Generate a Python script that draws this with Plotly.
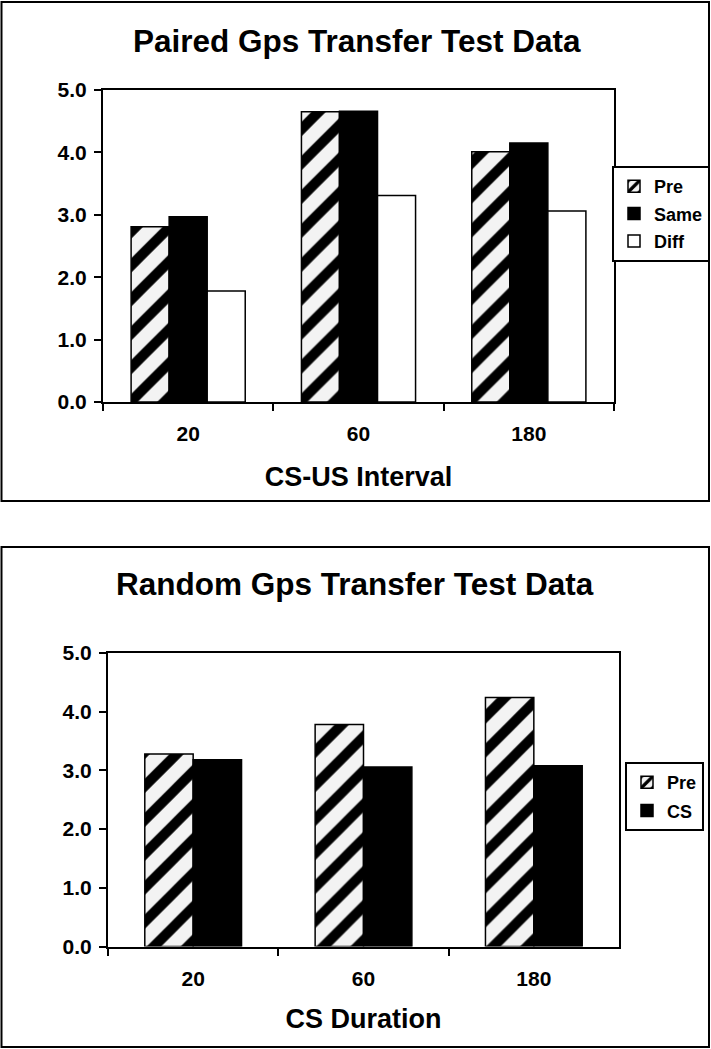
import plotly.graph_objects as go

W, H = 711, 1049

categories = ["20", "60", "180"]

paired_pre = [2.81, 4.65, 4.01]
paired_same = [2.97, 4.66, 4.15]
paired_diff = [1.78, 3.31, 3.06]

random_pre = [3.28, 3.78, 4.24]
random_cs = [3.18, 3.06, 3.08]

top_title = "Paired Gps Transfer Test Data"
bottom_title = "Random Gps Transfer Test Data"
top_xtitle = "CS-US Interval"
bottom_xtitle = "CS Duration"
y_ticks = [0, 1, 2, 3, 4, 5]

FONT = "Liberation Sans, Arial, Helvetica, sans-serif"

def px_x(p):
    return p / W

def px_y(p):
    return 1 - p / H

stripe = dict(shape="/", fgcolor="black", fgopacity=1, bgcolor="#f3f3f3", size=24, solidity=0.42)
outline = dict(color="black", width=1.5)

fig = go.Figure()

fig.add_trace(go.Bar(x=categories, y=paired_pre, name="Pre", xaxis="x", yaxis="y",
                     marker=dict(color="#f3f3f3", pattern=stripe, line=outline),
                     legend="legend", legendgroup="a1"))
fig.add_trace(go.Bar(x=categories, y=paired_same, name="Same", xaxis="x", yaxis="y",
                     marker=dict(color="black", line=outline), legend="legend", legendgroup="a2"))
fig.add_trace(go.Bar(x=categories, y=paired_diff, name="Diff", xaxis="x", yaxis="y",
                     marker=dict(color="white", line=outline), legend="legend", legendgroup="a3"))

bw = 0.284
fig.add_trace(go.Bar(x=categories, y=random_pre, name="Pre", xaxis="x2", yaxis="y2",
                     width=bw, offset=-bw,
                     marker=dict(color="#f3f3f3", pattern=stripe, line=outline),
                     legend="legend2", legendgroup="b1"))
fig.add_trace(go.Bar(x=categories, y=random_cs, name="CS", xaxis="x2", yaxis="y2",
                     width=bw, offset=0,
                     marker=dict(color="black", line=outline), legend="legend2", legendgroup="b2"))

tickfont = dict(family=FONT, size=21, color="black", weight="bold")
titlefont = dict(family=FONT, size=27, color="black", weight="bold")

def xaxis(domain, anchor, title, standoff):
    return dict(domain=domain, anchor=anchor, type="category", tickson="boundaries",
                ticks="outside", ticklen=7, tickwidth=2, tickcolor="black",
                showline=True, linewidth=2, linecolor="black", mirror=True,
                showgrid=False, tickfont=tickfont, ticklabelstandoff=12, automargin=False,
                title=dict(text=title, font=titlefont, standoff=standoff), fixedrange=True)

def yaxis(domain, anchor):
    return dict(domain=domain, anchor=anchor, range=[0, 5], tickvals=y_ticks, tickformat=".1f",
                ticks="outside", ticklen=7, tickwidth=2, tickcolor="black",
                showline=True, linewidth=2, linecolor="black", mirror=True,
                showgrid=False, zeroline=False, tickfont=tickfont, ticklabelstandoff=3,
                automargin=False, fixedrange=True)

legfont = dict(family=FONT, size=18, color="black", weight="bold")

fig.update_layout(
    width=W, height=H,
    margin=dict(l=0, r=0, t=0, b=0, autoexpand=False),
    paper_bgcolor="white", plot_bgcolor="white",
    barmode="group",
    bargap=0.33,
    xaxis=xaxis([px_x(103), px_x(614)], "y", top_xtitle, 23),
    yaxis=yaxis([px_y(402), px_y(90)], "x"),
    xaxis2=xaxis([px_x(108), px_x(619)], "y2", bottom_xtitle, 20),
    yaxis2=yaxis([px_y(946.5), px_y(653)], "x2"),
    legend=dict(x=px_x(710), y=px_y(166), xanchor="right", yanchor="top",
                bordercolor="black", borderwidth=2, bgcolor="white", font=legfont,
                itemwidth=30, tracegroupgap=1, traceorder="grouped"),
    legend2=dict(x=px_x(704), y=px_y(762), xanchor="right", yanchor="top",
                 bordercolor="black", borderwidth=2, bgcolor="white", font=legfont,
                 itemwidth=30, tracegroupgap=2, traceorder="grouped"),
    showlegend=True,
    shapes=[
        dict(type="rect", xref="paper", yref="paper", x0=px_x(1.5), x1=px_x(709), y0=px_y(501), y1=px_y(2),
             line=dict(color="black", width=2), fillcolor="rgba(0,0,0,0)", layer="below"),
        dict(type="rect", xref="paper", yref="paper", x0=px_x(1.5), x1=px_x(709), y0=px_y(1047), y1=px_y(547),
             line=dict(color="black", width=2), fillcolor="rgba(0,0,0,0)", layer="below"),
    ],
    annotations=[
        dict(text=top_title, xref="paper", yref="paper", x=px_x(357), y=px_y(41), xanchor="center",
             yanchor="middle", showarrow=False, font=dict(family=FONT, size=31.5, color="black", weight="bold")),
        dict(text=bottom_title, xref="paper", yref="paper", x=px_x(355), y=px_y(584), xanchor="center",
             yanchor="middle", showarrow=False, font=dict(family=FONT, size=31.5, color="black", weight="bold")),
    ],
)

fig.write_html("out.html", config={"displayModeBar": False})

with open("out.html", "r", encoding="utf-8") as f:
    html = f.read()
html = html.replace("<head>", "<head><style>html,body{margin:0;padding:0;overflow:hidden;}</style>", 1)
with open("out.html", "w", encoding="utf-8") as f:
    f.write(html)
